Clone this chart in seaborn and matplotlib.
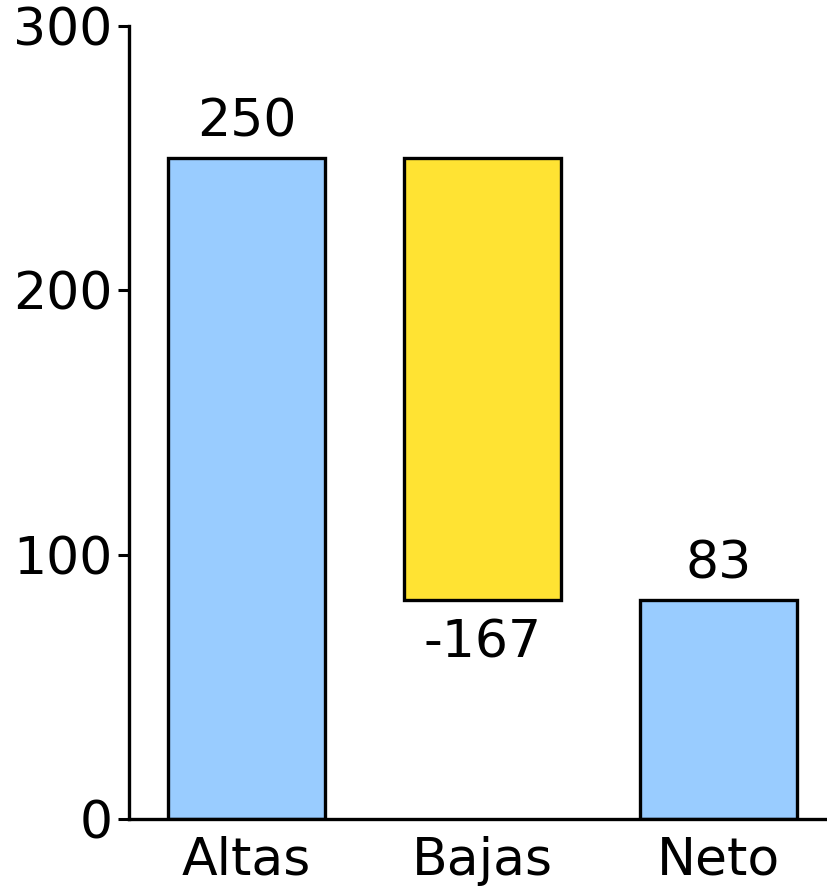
import matplotlib
matplotlib.use("Agg")
import matplotlib.pyplot as plt
import seaborn as sns
import pandas as pd

# Waterfall data: movements and net result
categories = ["Altas", "Bajas", "Neto"]
values = [250, -167, 83]
bottoms = [0, 83, 0]
heights = [250, 167, 83]
colors = ["#99CCFF", "#FFE333", "#99CCFF"]
yticks = [0, 100, 200, 300]

FS = 37.5

sns.set_theme(style="white")
plt.rcParams["font.family"] = ["DejaVu Sans"]

fig = plt.figure(figsize=(8.28, 8.89), dpi=100)
ax = fig.add_axes([129 / 828, 70 / 889, 1 - 129 / 828, (819 - 26) / 889])

df = pd.DataFrame({"cat": categories, "h": heights, "b": bottoms})
for cat, h, b, c in zip(categories, heights, bottoms, colors):
    sub = df[df["cat"] == cat]
    sns.barplot(data=sub, x="cat", y="h", order=categories, color=c,
                bottom=b, width=0.665, edgecolor="black", linewidth=2.4,
                saturation=1, ax=ax, errorbar=None)

# value labels: above rising bars, below the falling one
for i, (v, b, h) in enumerate(zip(values, bottoms, heights)):
    if v >= 0:
        ax.text(i, b + h + 4, f"{v}", ha="center", va="bottom", fontsize=FS, color="black")
    else:
        ax.text(i, b - 7, f"{v}", ha="center", va="top", fontsize=FS, color="black")

ax.set_ylim(0, 300)
ax.set_xlim(-0.498, 2.464)
ax.set_yticks(yticks)
ax.set_yticklabels([str(t) for t in yticks])
ax.set_xlabel("")
ax.set_ylabel("")
ax.tick_params(axis="y", which="major", length=8, width=2.2, pad=4, labelsize=FS, left=True, colors="black")
ax.tick_params(axis="x", length=0, pad=12, labelsize=FS, colors="black")
for s in ["top", "right"]:
    ax.spines[s].set_visible(False)
for s in ["left", "bottom"]:
    ax.spines[s].set_linewidth(2.4)
    ax.spines[s].set_color("black")
    ax.spines[s].set_clip_on(False)

fig.savefig("out.png", dpi=100, facecolor="white")
